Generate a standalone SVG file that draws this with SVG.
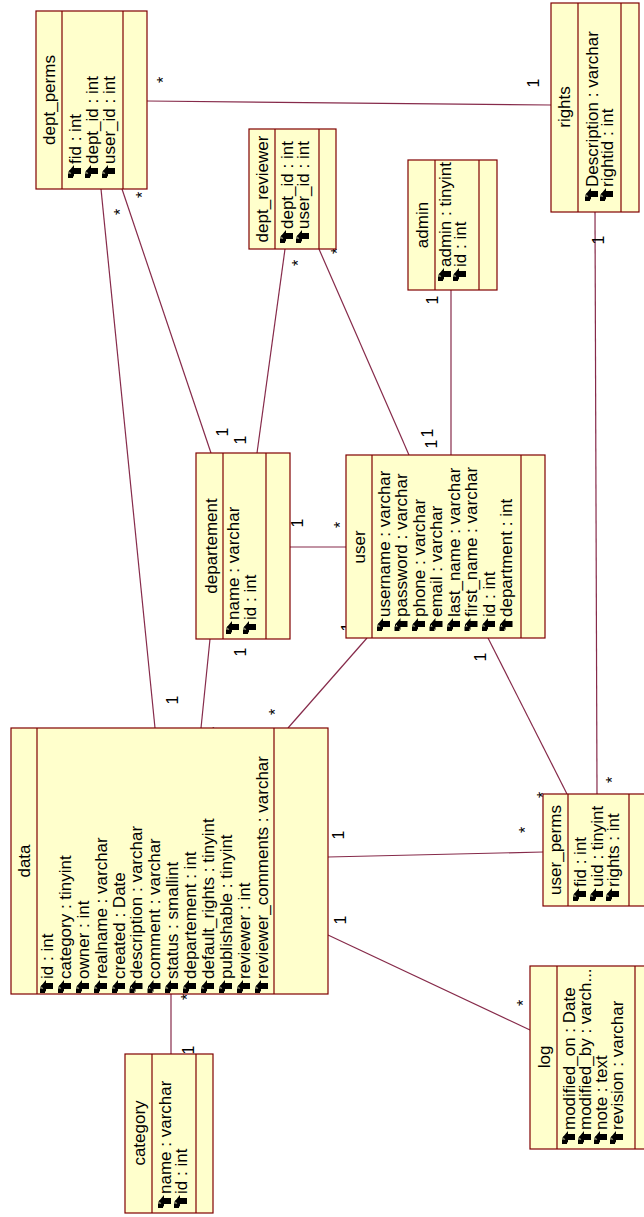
<svg xmlns="http://www.w3.org/2000/svg" xmlns:xlink="http://www.w3.org/1999/xlink" width="644" height="1217" viewBox="0 0 644 1217">
<style>
.box{fill:#FFFFCC;stroke:#800000;stroke-width:1.2}
.sep{stroke:#800000;stroke-width:1.2;fill:none}
.t{font-family:"Liberation Sans",Arial,sans-serif;font-size:17px;fill:#000;dominant-baseline:central}
.m{text-anchor:middle}
.c{stroke:#862a4a;stroke-width:1.2;fill:none}
.l{font-family:"Liberation Sans",Arial,sans-serif;font-size:16px;fill:#000;dominant-baseline:central;text-anchor:middle}
</style>
<defs>
<g id="ico">
<path d="M-6,-7 L-1,-13 L-1,-10 L6,-10 L6,-4 L-1,-4 L-1,-1 Z" fill="#000"/>
<rect x="-7" y="-4.5" width="5" height="4.5" fill="#000"/>
<path d="M-6,-4.5 v-1.5 a1.5,1.5 0 0 1 3,0 v1.5" stroke="#000" stroke-width="1" fill="none"/>
</g>
</defs>
<rect width="644" height="1217" fill="#fff"/>
<g id="connectors">
<path class="c" d="M147,101 L551,105"/>
<path class="c" d="M101,189 L155,728"/>
<path class="c" d="M122,189 L211,453"/>
<path class="c" d="M285,249 L257,453"/>
<path class="c" d="M319,249 L409,455"/>
<path class="c" d="M451,290 L451,455"/>
<path class="c" d="M290,547 L346,547"/>
<path class="c" d="M210,639 L201,728"/>
<path class="c" d="M367,638 L288,728"/>
<path class="c" d="M488,638 L567,794"/>
<path class="c" d="M595,212 L597,794"/>
<path class="c" d="M328,857 L543,852"/>
<path class="c" d="M328,935 L530,1030"/>
<path class="c" d="M171,994 L171,1054"/>
<text class="l" transform="translate(163,80) rotate(-90)">*</text>
<text class="l" transform="translate(533,83) rotate(-90)">1</text>
<text class="l" transform="translate(120,212) rotate(-90)">*</text>
<text class="l" transform="translate(172,700) rotate(-90)">1</text>
<text class="l" transform="translate(142,195) rotate(-90)">*</text>
<text class="l" transform="translate(222,432) rotate(-90)">1</text>
<text class="l" transform="translate(298,263) rotate(-90)">*</text>
<text class="l" transform="translate(240,440) rotate(-90)">1</text>
<text class="l" transform="translate(337,251) rotate(-90)">*</text>
<text class="l" transform="translate(427,433) rotate(-90)">1</text>
<text class="l" transform="translate(432,300) rotate(-90)">1</text>
<text class="l" transform="translate(431,444) rotate(-90)">1</text>
<text class="l" transform="translate(297,523) rotate(-90)">1</text>
<text class="l" transform="translate(340,525) rotate(-90)">*</text>
<text class="l" transform="translate(240,652) rotate(-90)">1</text>
<text class="l" transform="translate(217,730) rotate(-90)">*</text>
<text class="l" transform="translate(347,627) rotate(-90)">1</text>
<text class="l" transform="translate(275,712) rotate(-90)">*</text>
<text class="l" transform="translate(480,657) rotate(-90)">1</text>
<text class="l" transform="translate(543,795) rotate(-90)">*</text>
<text class="l" transform="translate(598,240) rotate(-90)">1</text>
<text class="l" transform="translate(612,780) rotate(-90)">*</text>
<text class="l" transform="translate(338,835) rotate(-90)">1</text>
<text class="l" transform="translate(525,830) rotate(-90)">*</text>
<text class="l" transform="translate(340,920) rotate(-90)">1</text>
<text class="l" transform="translate(523,1003) rotate(-90)">*</text>
<text class="l" transform="translate(187,997) rotate(-90)">*</text>
<text class="l" transform="translate(188,1050) rotate(-90)">1</text>
</g>
<g id="dept_perms">
<rect class="box" x="36" y="11" width="111" height="178"/>
<path class="sep" d="M62,11 V189 M123,11 V189"/>
<text class="t m" transform="translate(49,100) rotate(-90)">dept_perms</text>
<use xlink:href="#ico" x="75" y="178"/><text class="t" transform="translate(75,164) rotate(-90)">fid : int</text>
<use xlink:href="#ico" x="92" y="178"/><text class="t" transform="translate(92,164) rotate(-90)">dept_id : int</text>
<use xlink:href="#ico" x="109" y="178"/><text class="t" transform="translate(109,164) rotate(-90)">user_id : int</text>
</g>
<g id="dept_reviewer">
<rect class="box" x="249" y="129" width="87" height="120"/>
<path class="sep" d="M275,129 V249 M319,129 V249"/>
<text class="t m" transform="translate(262,189) rotate(-90)">dept_reviewer</text>
<use xlink:href="#ico" x="287" y="243"/><text class="t" transform="translate(287,229) rotate(-90)">dept_id : int</text>
<use xlink:href="#ico" x="303" y="243"/><text class="t" transform="translate(303,229) rotate(-90)">user_id : int</text>
</g>
<g id="admin">
<rect class="box" x="408" y="160" width="89" height="130"/>
<path class="sep" d="M435,160 V290 M479,160 V290"/>
<text class="t m" transform="translate(422,225) rotate(-90)">admin</text>
<use xlink:href="#ico" x="445" y="281"/><text class="t" transform="translate(445,267) rotate(-90)">admin : tinyint</text>
<use xlink:href="#ico" x="460" y="281"/><text class="t" transform="translate(460,267) rotate(-90)">id : int</text>
</g>
<g id="rights">
<rect class="box" x="551" y="3" width="88" height="209"/>
<path class="sep" d="M578,3 V212 M621,3 V212"/>
<text class="t m" transform="translate(564,107) rotate(-90)">rights</text>
<use xlink:href="#ico" x="592" y="201"/><text class="t" transform="translate(592,187) rotate(-90)">Description : varchar</text>
<use xlink:href="#ico" x="607" y="201"/><text class="t" transform="translate(607,187) rotate(-90)">rightid : int</text>
</g>
<g id="departement">
<rect class="box" x="196" y="453" width="94" height="186"/>
<path class="sep" d="M223,453 V639 M266,453 V639"/>
<text class="t m" transform="translate(211,546) rotate(-90)">departement</text>
<use xlink:href="#ico" x="233" y="634"/><text class="t" transform="translate(233,620) rotate(-90)">name : varchar</text>
<use xlink:href="#ico" x="250" y="634"/><text class="t" transform="translate(250,620) rotate(-90)">id : int</text>
</g>
<g id="user">
<rect class="box" x="346" y="455" width="199" height="183"/>
<path class="sep" d="M372,455 V638 M521,455 V638"/>
<text class="t m" transform="translate(359,547) rotate(-90)">user</text>
<use xlink:href="#ico" x="384" y="631"/><text class="t" transform="translate(384,617) rotate(-90)">username : varchar</text>
<use xlink:href="#ico" x="401.5" y="631"/><text class="t" transform="translate(401.5,617) rotate(-90)">password : varchar</text>
<use xlink:href="#ico" x="419" y="631"/><text class="t" transform="translate(419,617) rotate(-90)">phone : varchar</text>
<use xlink:href="#ico" x="436.5" y="631"/><text class="t" transform="translate(436.5,617) rotate(-90)">email : varchar</text>
<use xlink:href="#ico" x="454" y="631"/><text class="t" transform="translate(454,617) rotate(-90)">last_name : varchar</text>
<use xlink:href="#ico" x="471.5" y="631"/><text class="t" transform="translate(471.5,617) rotate(-90)">first_name : varchar</text>
<use xlink:href="#ico" x="489" y="631"/><text class="t" transform="translate(489,617) rotate(-90)">id : int</text>
<use xlink:href="#ico" x="506.5" y="631"/><text class="t" transform="translate(506.5,617) rotate(-90)">department : int</text>
</g>
<g id="data">
<rect class="box" x="11" y="728" width="317" height="266"/>
<path class="sep" d="M37,728 V994 M274,728 V994"/>
<text class="t m" transform="translate(24,861) rotate(-90)">data</text>
<use xlink:href="#ico" x="47" y="993"/><text class="t" transform="translate(47,979) rotate(-90)">id : int</text>
<use xlink:href="#ico" x="65" y="993"/><text class="t" transform="translate(65,979) rotate(-90)">category : tinyint</text>
<use xlink:href="#ico" x="83" y="993"/><text class="t" transform="translate(83,979) rotate(-90)">owner : int</text>
<use xlink:href="#ico" x="101" y="993"/><text class="t" transform="translate(101,979) rotate(-90)">realname : varchar</text>
<use xlink:href="#ico" x="119" y="993"/><text class="t" transform="translate(119,979) rotate(-90)">created : Date</text>
<use xlink:href="#ico" x="136.5" y="993"/><text class="t" transform="translate(136.5,979) rotate(-90)">description : varchar</text>
<use xlink:href="#ico" x="154.5" y="993"/><text class="t" transform="translate(154.5,979) rotate(-90)">comment : varchar</text>
<use xlink:href="#ico" x="172" y="993"/><text class="t" transform="translate(172,979) rotate(-90)">status : smallint</text>
<use xlink:href="#ico" x="190" y="993"/><text class="t" transform="translate(190,979) rotate(-90)">departement : int</text>
<use xlink:href="#ico" x="208" y="993"/><text class="t" transform="translate(208,979) rotate(-90)">default_rights : tinyint</text>
<use xlink:href="#ico" x="226" y="993"/><text class="t" transform="translate(226,979) rotate(-90)">publishable : tinyint</text>
<use xlink:href="#ico" x="244" y="993"/><text class="t" transform="translate(244,979) rotate(-90)">reviewer : int</text>
<use xlink:href="#ico" x="262" y="993"/><text class="t" transform="translate(262,979) rotate(-90)">reviewer_comments : varchar</text>
</g>
<g id="user_perms">
<rect class="box" x="543" y="794" width="110" height="112"/>
<path class="sep" d="M568,794 V906 M629,794 V906"/>
<text class="t m" transform="translate(555,850) rotate(-90)">user_perms</text>
<use xlink:href="#ico" x="580" y="901"/><text class="t" transform="translate(580,887) rotate(-90)">fid : int</text>
<use xlink:href="#ico" x="597" y="901"/><text class="t" transform="translate(597,887) rotate(-90)">uid : tinyint</text>
<use xlink:href="#ico" x="613" y="901"/><text class="t" transform="translate(613,887) rotate(-90)">rights : int</text>
</g>
<g id="category">
<rect class="box" x="125" y="1054" width="88" height="159"/>
<path class="sep" d="M152,1054 V1213 M196,1054 V1213"/>
<text class="t m" transform="translate(139,1133) rotate(-90)">category</text>
<use xlink:href="#ico" x="165" y="1208"/><text class="t" transform="translate(165,1194) rotate(-90)">name : varchar</text>
<use xlink:href="#ico" x="181" y="1208"/><text class="t" transform="translate(181,1194) rotate(-90)">id : int</text>
</g>
<g id="log">
<rect class="box" x="530" y="966" width="120" height="183"/>
<path class="sep" d="M557,966 V1149 M635,966 V1149"/>
<text class="t m" transform="translate(544,1057) rotate(-90)">log</text>
<use xlink:href="#ico" x="569" y="1144"/><text class="t" transform="translate(569,1130) rotate(-90)">modified_on : Date</text>
<use xlink:href="#ico" x="585" y="1144"/><text class="t" transform="translate(585,1130) rotate(-90)">modified_by : varch...</text>
<use xlink:href="#ico" x="601" y="1144"/><text class="t" transform="translate(601,1130) rotate(-90)">note : text</text>
<use xlink:href="#ico" x="617" y="1144"/><text class="t" transform="translate(617,1130) rotate(-90)">revision : varchar</text>
</g>
</svg>
